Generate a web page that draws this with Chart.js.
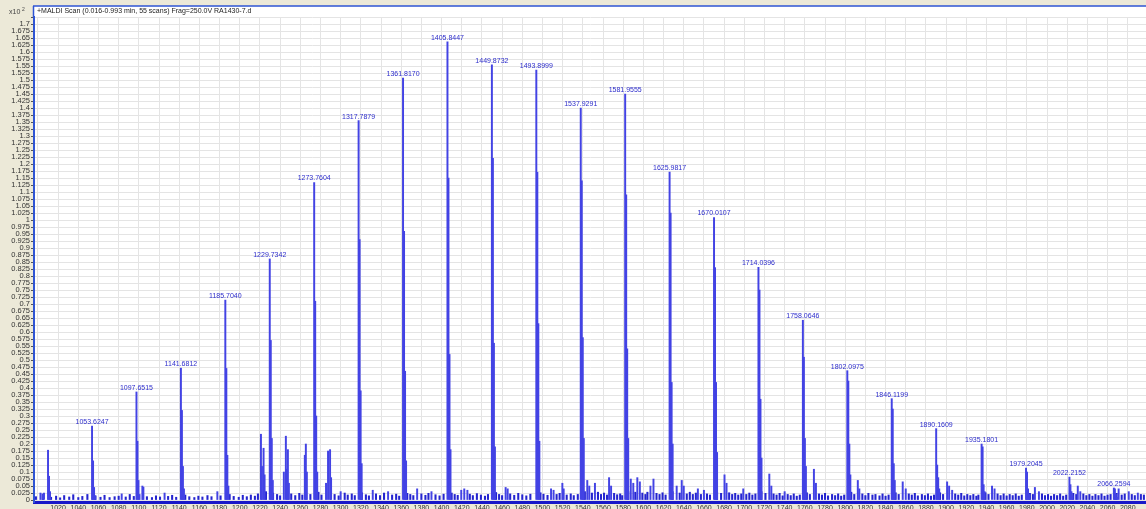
<!DOCTYPE html>
<html>
<head>
<meta charset="utf-8">
<script src="https://cdn.jsdelivr.net/npm/chart.js@4"></script>
<style>
  html, body { margin: 0; padding: 0; background: #ece9d8; overflow: hidden; }
  canvas { display: block; }
</style>
</head>
<body>
<canvas id="spectrum" width="1146" height="509"></canvas>
<script>
// labelled monoisotopic peaks (m/z) and their intensities (x10^2 counts)
const peakMz = [1053.6247, 1097.6515, 1141.6812, 1185.7040, 1229.7342, 1273.7604, 1317.7879, 1361.8170,
  1405.8447, 1449.8732, 1493.8999, 1537.9291, 1581.9555, 1625.9817, 1670.0107, 1714.0396, 1758.0646,
  1802.0975, 1846.1199, 1890.1609, 1935.1801, 1979.2045, 2022.2152, 2066.2594];
const peakHeights = [0.264, 0.386, 0.471, 0.714, 0.861, 1.134, 1.355, 1.507,
  1.636, 1.554, 1.535, 1.400, 1.450, 1.171, 1.009, 0.831, 0.642,
  0.462, 0.362, 0.255, 0.200, 0.114, 0.082, 0.043];

// isotope peaks at +1, +2, +3 Da after each labelled peak
const iso1 = [0.140, 0.210, 0.320, 0.470, 0.570, 0.710, 0.930, 0.960,
  1.150, 1.220, 1.170, 1.140, 1.090, 1.025, 0.830, 0.750, 0.510,
  0.425, 0.325, 0.125, 0.190, 0.100, 0.055, 0.040];
const iso2 = [0.045, 0.070, 0.120, 0.160, 0.220, 0.300, 0.390, 0.460,
  0.520, 0.560, 0.630, 0.580, 0.540, 0.420, 0.420, 0.360, 0.220,
  0.200, 0.130, 0.080, 0.055, 0.040, 0.030, 0.020];
const iso3 = [0.015, 0.020, 0.040, 0.050, 0.070, 0.100, 0.130, 0.140,
  0.180, 0.190, 0.210, 0.220, 0.220, 0.200, 0.170, 0.150, 0.120,
  0.090, 0.070, 0.040, 0.030, 0.020, 0.015, 0.010];

// smaller unlabelled peaks
const minorMz = [1002.5, 1004.5, 1006.0, 1010.0, 1011.0, 1012.0, 1083.0, 1103.5, 1104.5, 1125.5,
  1177.8, 1221.0, 1222.0, 1223.6, 1224.6, 1243.7, 1245.7, 1246.7, 1247.7, 1248.7,
  1264.5, 1265.5, 1266.5, 1285.5, 1287.5, 1289.5, 1290.5, 1300.0, 1331.8, 1347.0,
  1375.8, 1390.0, 1419.5, 1422.5, 1425.6, 1463.5, 1465.5, 1508.5, 1511.0, 1519.7,
  1521.0, 1544.4, 1546.4, 1552.0, 1566.0, 1568.0, 1587.5, 1590.0, 1594.0, 1596.5,
  1607.0, 1610.0, 1633.0, 1638.0, 1640.0, 1654.0, 1660.0, 1680.4, 1682.4, 1699.0,
  1724.8, 1726.8, 1740.0, 1769.0, 1771.0, 1812.5, 1814.0, 1857.0, 1860.0, 1901.0,
  1903.0, 1906.0, 1945.5, 1948.0, 1988.0, 1992.0, 2030.5, 2033.0, 2071.0, 2081.0, 2090.0];
const minorHeights = [0.025, 0.022, 0.025, 0.178, 0.085, 0.030, 0.022, 0.050, 0.046, 0.025,
  0.030, 0.235, 0.120, 0.185, 0.090, 0.100, 0.228, 0.110, 0.180, 0.060,
  0.160, 0.200, 0.100, 0.060, 0.175, 0.180, 0.080, 0.030, 0.035, 0.030,
  0.040, 0.030, 0.035, 0.040, 0.035, 0.045, 0.040, 0.040, 0.035, 0.060,
  0.040, 0.070, 0.050, 0.060, 0.080, 0.050, 0.075, 0.060, 0.080, 0.065,
  0.050, 0.075, 0.050, 0.070, 0.050, 0.040, 0.035, 0.090, 0.060, 0.040,
  0.093, 0.050, 0.030, 0.110, 0.060, 0.070, 0.040, 0.065, 0.040, 0.065,
  0.050, 0.035, 0.050, 0.040, 0.045, 0.030, 0.050, 0.030, 0.040, 0.030, 0.025];

// baseline chatter
const noiseMz = [998, 1005, 1013, 1018, 1022, 1026, 1031, 1035, 1040, 1044, 1049, 1057, 1062, 1066, 1071,
  1076, 1080, 1087, 1091, 1095, 1108, 1113, 1117, 1121, 1129, 1133, 1137, 1146, 1150, 1155,
  1159, 1163, 1168, 1172, 1181, 1190, 1194, 1199, 1203, 1207, 1211, 1215, 1218, 1226, 1233,
  1237, 1240, 1251, 1255, 1259, 1262, 1270, 1278, 1281, 1294, 1298, 1304, 1307, 1311, 1314,
  1321, 1325, 1328, 1335, 1339, 1343, 1351, 1355, 1358, 1366, 1369, 1372, 1380, 1384, 1387,
  1394, 1398, 1402, 1410, 1413, 1416, 1428, 1431, 1435, 1439, 1443, 1446, 1454, 1457, 1460,
  1468, 1472, 1476, 1480, 1484, 1488, 1498, 1501, 1505, 1514, 1517, 1524, 1528, 1531, 1535,
  1542, 1549, 1555, 1558, 1561, 1564, 1571, 1574, 1577, 1579, 1585, 1592, 1599, 1602, 1604,
  1613, 1616, 1619, 1622, 1629, 1636, 1643, 1646, 1649, 1652, 1657, 1663, 1666, 1673, 1677,
  1685, 1688, 1691, 1694, 1697, 1702, 1705, 1708, 1711, 1717, 1721, 1729, 1732, 1735, 1738,
  1743, 1746, 1749, 1752, 1755, 1762, 1765, 1774, 1777, 1780, 1783, 1787, 1790, 1793, 1796,
  1799, 1806, 1809, 1817, 1820, 1823, 1827, 1830, 1834, 1837, 1840, 1843, 1850, 1853, 1863,
  1866, 1869, 1872, 1876, 1879, 1882, 1885, 1888, 1894, 1897, 1909, 1912, 1915, 1918, 1921,
  1924, 1927, 1930, 1932, 1939, 1942, 1951, 1954, 1957, 1960, 1963, 1966, 1969, 1972, 1975,
  1983, 1986, 1995, 1998, 2001, 2004, 2007, 2010, 2013, 2016, 2019, 2026, 2029, 2036, 2039,
  2042, 2045, 2048, 2051, 2054, 2057, 2060, 2063, 2069, 2074, 2077, 2084, 2087, 2093, 2096];
const noiseHeights = [0.012, 0.018, 0.010, 0.014, 0.008, 0.016, 0.011, 0.019, 0.009, 0.013, 0.020, 0.015, 0.010, 0.017, 0.009,
  0.012, 0.014, 0.011, 0.020, 0.013, 0.012, 0.009, 0.015, 0.011, 0.013, 0.017, 0.010, 0.018, 0.012, 0.009,
  0.014, 0.011, 0.016, 0.012, 0.015, 0.020, 0.013, 0.010, 0.017, 0.012, 0.018, 0.014, 0.022, 0.030, 0.025,
  0.020, 0.015, 0.022, 0.016, 0.024, 0.018, 0.020, 0.028, 0.018, 0.020, 0.015, 0.025, 0.018, 0.022, 0.016,
  0.026, 0.019, 0.015, 0.022, 0.016, 0.025, 0.018, 0.021, 0.014, 0.024, 0.020, 0.016, 0.022, 0.017, 0.024,
  0.019, 0.015, 0.021, 0.025, 0.020, 0.017, 0.021, 0.016, 0.023, 0.018, 0.014, 0.020, 0.027, 0.020, 0.016,
  0.022, 0.017, 0.024, 0.019, 0.015, 0.021, 0.026, 0.021, 0.017, 0.020, 0.024, 0.018, 0.022, 0.016, 0.020,
  0.030, 0.025, 0.028, 0.020, 0.025, 0.018, 0.024, 0.019, 0.022, 0.016, 0.030, 0.028, 0.025, 0.020, 0.028,
  0.024, 0.020, 0.026, 0.018, 0.030, 0.025, 0.022, 0.028, 0.020, 0.025, 0.020, 0.022, 0.018, 0.028, 0.024,
  0.026, 0.020, 0.024, 0.018, 0.022, 0.020, 0.025, 0.018, 0.022, 0.030, 0.024, 0.022, 0.018, 0.024, 0.015,
  0.020, 0.016, 0.022, 0.014, 0.018, 0.026, 0.020, 0.022, 0.018, 0.024, 0.015, 0.020, 0.016, 0.022, 0.014,
  0.018, 0.028, 0.020, 0.022, 0.016, 0.024, 0.018, 0.020, 0.015, 0.022, 0.014, 0.018, 0.026, 0.020, 0.022,
  0.018, 0.024, 0.015, 0.020, 0.016, 0.022, 0.014, 0.018, 0.026, 0.020, 0.022, 0.018, 0.024, 0.015, 0.020,
  0.016, 0.020, 0.014, 0.018, 0.026, 0.020, 0.022, 0.016, 0.022, 0.015, 0.020, 0.016, 0.022, 0.014, 0.018,
  0.024, 0.020, 0.022, 0.016, 0.020, 0.014, 0.020, 0.016, 0.022, 0.014, 0.018, 0.024, 0.020, 0.022, 0.016,
  0.020, 0.014, 0.020, 0.016, 0.022, 0.014, 0.018, 0.020, 0.024, 0.018, 0.022, 0.020, 0.016, 0.020, 0.018];

const xTicks = [1000, 1020, 1040, 1060, 1080, 1100, 1120, 1140, 1160, 1180, 1200, 1220, 1240, 1260, 1280,
  1300, 1320, 1340, 1360, 1380, 1400, 1420, 1440, 1460, 1480, 1500, 1520, 1540, 1560, 1580,
  1600, 1620, 1640, 1660, 1680, 1700, 1720, 1740, 1760, 1780, 1800, 1820, 1840, 1860, 1880,
  1900, 1920, 1940, 1960, 1980, 2000, 2020, 2040, 2060, 2080];
const yTicks = [0, 0.025, 0.05, 0.075, 0.1, 0.125, 0.15, 0.175, 0.2, 0.225, 0.25, 0.275, 0.3, 0.325,
  0.35, 0.375, 0.4, 0.425, 0.45, 0.475, 0.5, 0.525, 0.55, 0.575, 0.6, 0.625, 0.65, 0.675, 0.7,
  0.725, 0.75, 0.775, 0.8, 0.825, 0.85, 0.875, 0.9, 0.925, 0.95, 0.975, 1, 1.025, 1.05, 1.075,
  1.1, 1.125, 1.15, 1.175, 1.2, 1.225, 1.25, 1.275, 1.3, 1.325, 1.35, 1.375, 1.4, 1.425, 1.45,
  1.475, 1.5, 1.525, 1.55, 1.575, 1.6, 1.625, 1.65, 1.675, 1.7, 1.725];

const ISO_STEP = 1.003;
const title = '+MALDI Scan (0.016-0.993 min, 55 scans) Frag=250.0V RA1430-7.d';

Chart.defaults.font.family = '"Liberation Sans", Arial, sans-serif';

function toPoints(xs, ys) {
  return xs.map((x, i) => ({ x: x, y: ys[i] }));
}

const isoPoints = [iso1, iso2, iso3].flatMap((h, k) =>
  peakMz.map((m, i) => ({ x: m + (k + 1) * ISO_STEP, y: h[i] })));

// thin stems; the baseline stuff a bit darker so it reads as a dense band
const stem = { backgroundColor: '#4343e4', borderWidth: 0, barThickness: 1.3, grouped: false };
const lowStem = { backgroundColor: '#2424cf', borderWidth: 0, barThickness: 1.4, grouped: false };

// background, header strip and peak annotations
const framePlugin = {
  id: 'frame',
  beforeDraw(chart) {
    const ctx = chart.ctx, a = chart.chartArea;
    ctx.save();
    ctx.fillStyle = '#ece9d8';
    ctx.fillRect(0, 0, chart.width, chart.height);
    ctx.fillStyle = '#ffffff';
    ctx.fillRect(a.left, 6, chart.width - a.left, a.bottom - 6);
    ctx.restore();
  },
  afterDraw(chart) {
    const ctx = chart.ctx, a = chart.chartArea;
    ctx.save();
    ctx.strokeStyle = '#2f55d4';
    ctx.lineWidth = 1.5;
    ctx.beginPath();
    ctx.moveTo(a.left - 1, 6);
    ctx.lineTo(chart.width, 6);
    ctx.moveTo(a.left - 0.5, 6);
    ctx.lineTo(a.left - 0.5, a.top);
    ctx.stroke();

    ctx.fillStyle = '#222';
    ctx.font = '7px "Liberation Sans"';
    ctx.textBaseline = 'middle';
    ctx.fillText(title, a.left + 3, 11.5);

    ctx.fillStyle = '#444';
    ctx.fillText('x10', 9, 12);
    ctx.font = '5px "Liberation Sans"';
    ctx.fillText('2', 22, 10);

    // m/z labels over the labelled peaks
    const meta = chart.getDatasetMeta(0);
    ctx.font = '7px "Liberation Sans"';
    ctx.fillStyle = '#2d2dcc';
    ctx.textAlign = 'center';
    ctx.textBaseline = 'alphabetic';
    meta.data.forEach((bar, i) => {
      ctx.fillText(peakMz[i].toFixed(4), bar.x, bar.y - 2);
    });
    ctx.restore();
  }
};

new Chart(document.getElementById('spectrum'), {
  type: 'bar',
  data: {
    datasets: [
      Object.assign({ data: toPoints(peakMz, peakHeights) }, stem),
      Object.assign({ data: isoPoints }, stem),
      Object.assign({ data: toPoints(minorMz, minorHeights) }, stem),
      Object.assign({ data: toPoints(noiseMz, noiseHeights) }, lowStem)
    ]
  },
  options: {
    responsive: false,
    animation: false,
    layout: { padding: { top: 17, right: 0, left: 0, bottom: 0 } },
    plugins: { legend: { display: false }, tooltip: { enabled: false } },
    scales: {
      x: {
        type: 'linear',
        min: 996.1,
        max: 2098.1,
        offset: false,
        afterBuildTicks: axis => { axis.ticks = xTicks.map(v => ({ value: v })); },
        afterFit: axis => { axis.height = 7; },
        grid: { color: '#e4e4e4', offset: false, tickLength: 1, tickColor: '#666' },
        border: { color: '#1818c8', width: 3 },
        ticks: {
          autoSkip: false,
          maxRotation: 0,
          padding: 1,
          color: '#333',
          font: { size: 7 },
          callback: v => (v === 1000 ? '' : String(v))
        }
      },
      y: {
        min: -0.007,
        max: 1.725,
        afterBuildTicks: axis => { axis.ticks = yTicks.map(v => ({ value: v })); },
        afterFit: axis => { axis.width = 34; },
        grid: { color: '#e4e4e4', tickLength: 3, tickColor: '#555' },
        border: { color: '#2f55d4', width: 2 },
        ticks: {
          autoSkip: false,
          padding: 1,
          color: '#333',
          font: { size: 7.5 },
          callback: v => (v > 1.7 ? '' : String(parseFloat(v.toFixed(3))))
        }
      }
    }
  },
  plugins: [framePlugin]
});
</script>
</body>
</html>
